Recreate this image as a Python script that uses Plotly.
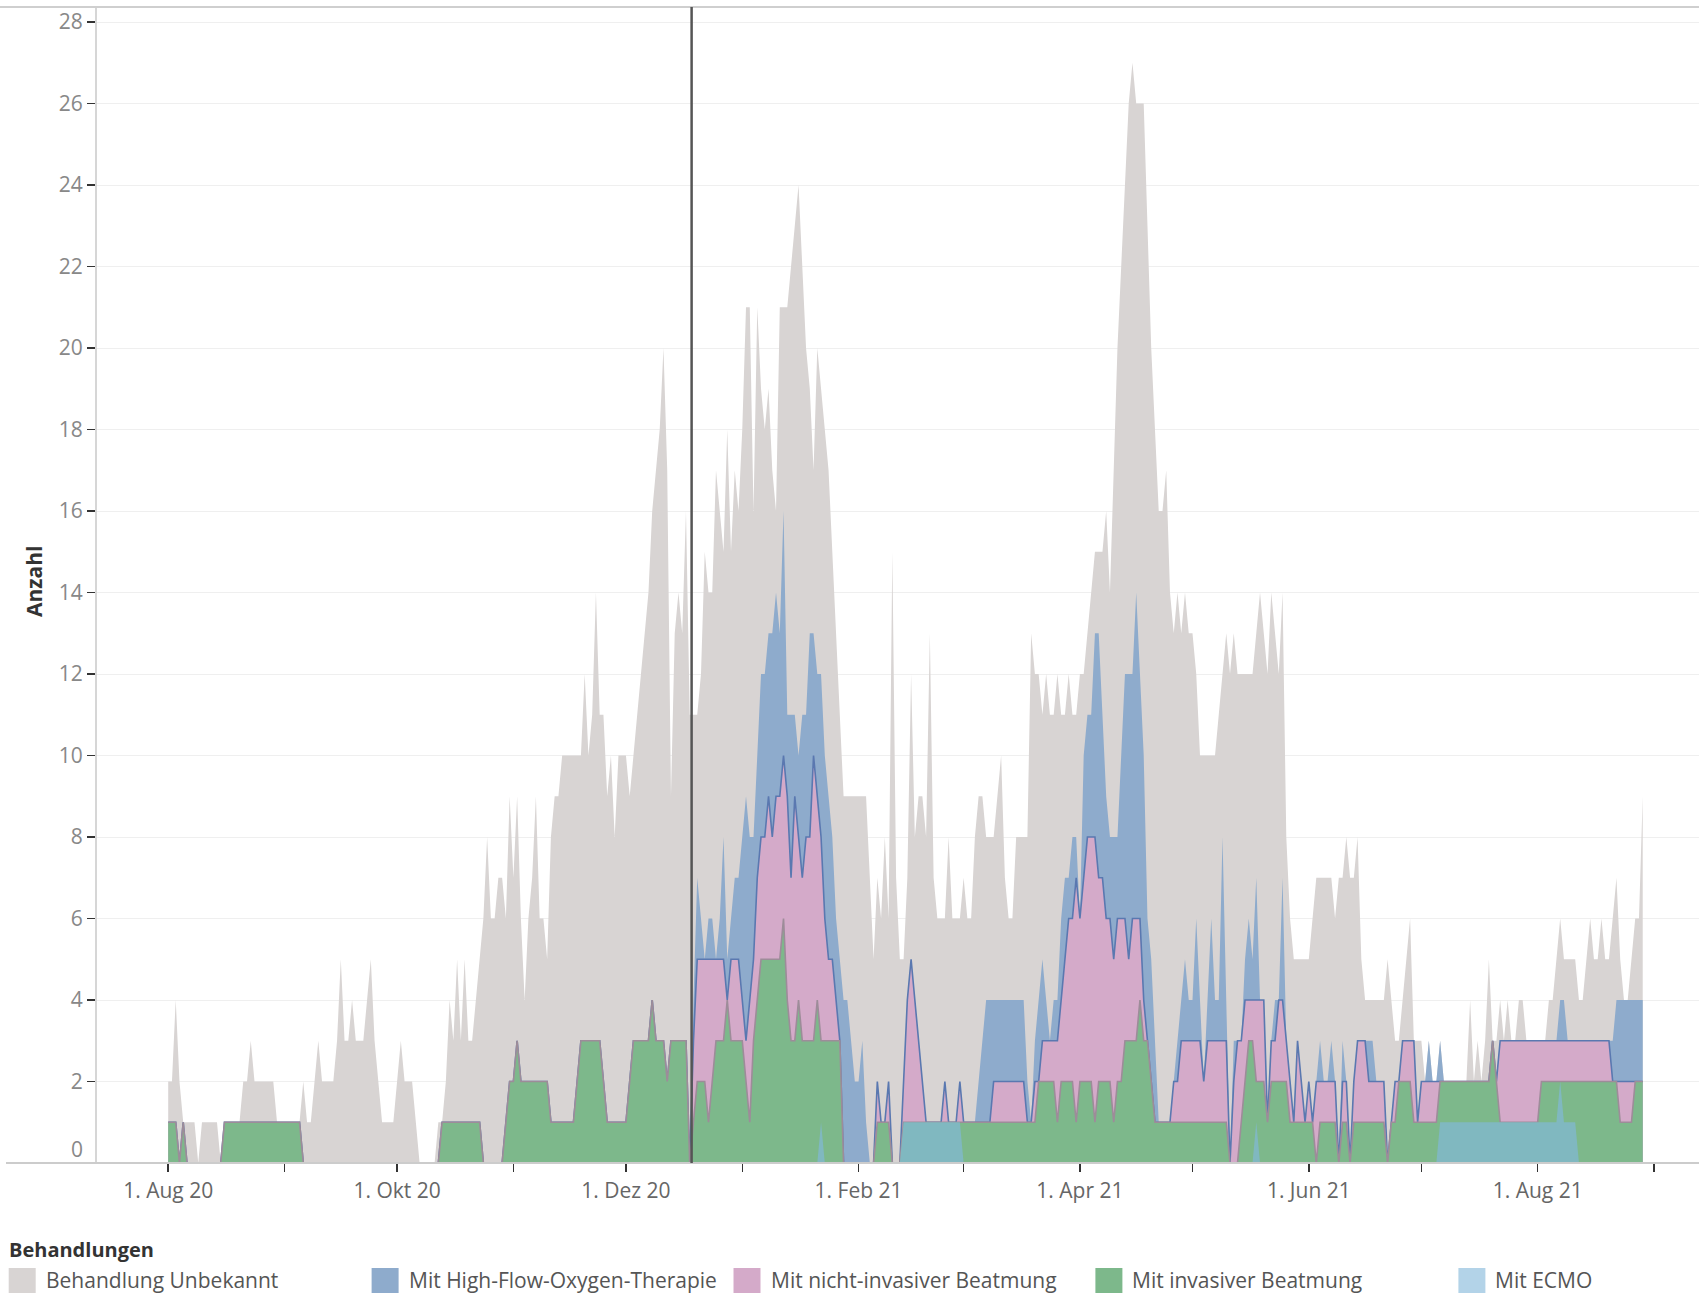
import pandas as pd
import plotly.graph_objects as go

# ---------------- data (daily counts, 1 Aug 2020 .. 29 Aug 2021) ----------------
start_date = "2020-08-01"
n_days = 394

unbekannt = (
    [2,2,4,2,1,1,1,1,0,1, 1,1,1,1,0,1,1,1,1,1, 2,2,3,2,2,2,2,2,2,1, 1]            # Aug 20
    + [1,1,1,1,1,2,1,1,2,3, 2,2,2,2,3,5,3,3,4,3, 3,3,4,5,3,2,1,1,1,1]           # Sep 20
    + [2,3,2,2,2,1,0,0,0,0, 0,1,1,2,4,3,5,3,5,3, 3,4,5,6,8,6,6,7,7,6, 9]        # Okt 20
    + [7,9,6,4,6,7,9,6,6,5, 8,9,9,10,10,10,10,10,10,12, 10,11,14,11,11,9,10,8,10,10]  # Nov 20
    + [10,9,10,11,12,13,14,16,17,18, 20,17,9,13,14,13,16,11,11,11, 12,15,14,14,17,16,15,18,15,17, 16]  # Dez 20
    + [18,21,21,16,21,19,18,19,17,16, 21,21,21,22,23,24,22,20,19,17, 20,19,18,17,15,13,11,9,9,9, 9]   # Jan 21
    + [9,9,9,7,5,7,6,8,6,15, 7,5,5,7,12,8,9,9,8,13, 7,6,6,6,8,6,6,6]           # Feb 21
    + [7,6,6,8,9,9,8,8,8,9, 10,7,6,6,8,8,8,8,13,12, 12,11,12,11,11,12,11,11,12,11, 11]  # Mar 21
    + [12,12,13,14,15,15,15,16,14,17, 20,22,24,26,27,26,26,26,23,20, 18,16,16,17,14,13,14,13,14,13]  # Apr 21
    + [13,12,10,10,10,10,10,11,12,13, 12,13,12,12,12,12,12,13,14,13, 12,14,13,12,14,8,6,5,5,5, 5]   # Mai 21
    + [5,6,7,7,7,7,7,6,7,7, 8,7,7,8,5,4,4,4,4,4, 4,5,4,3,3,4,5,6,3,3]          # Jun 21
    + [3,2,3,2,2,3,2,2,2,2, 2,2,2,4,2,3,2,3,5,3, 3,4,3,4,3,3,4,4,3,3, 3]        # Jul 21
    + [3,3,3,4,4,5,6,5,5,5, 5,4,4,5,6,5,5,6,5,5, 6,7,5,4,4,5,6,6,9]            # Aug 21
)

high_flow = (
    [1,1,1,0,1,0,0,0,0,0, 0,0,0,0,0,1,1,1,1,1, 1,1,1,1,1,1,1,1,1,1, 1]
    + [1,1,1,1,1,0,0,0,0,0, 0,0,0,0,0,0,0,0,0,0, 0,0,0,0,0,0,0,0,0,0]
    + [0,0,0,0,0,0,0,0,0,0, 0,0,1,1,1,1,1,1,1,1, 1,1,1,0,0,0,0,0,0,1, 2]
    + [2,3,2,2,2,2,2,2,2,2, 1,1,1,1,1,1,1,2,3,3, 3,3,3,3,2,1,1,1,1,1]
    + [1,2,3,3,3,3,3,4,3,3, 3,2,3,3,3,3,3,0,4,7, 6,5,6,6,5,6,8,5,6,7, 7]
    + [8,9,8,8,10,12,12,13,13,14, 13,16,11,11,11,10,11,11,13,13, 12,12,10,9,8,6,5,4,4,3, 2]
    + [2,3,1,0,0,2,1,1,2,0, 0,0,2,4,5,4,3,2,1,1, 1,1,1,2,1,1,1,2]
    + [1,1,1,1,2,3,4,4,4,4, 4,4,4,4,4,4,4,2,1,3, 4,5,4,3,4,4,6,7,7,8, 8]
    + [6,10,11,11,13,13,11,9,8,8, 8,10,12,12,12,14,12,10,6,5, 3,1,1,1,1,2,3,4,5,4]
    + [4,6,4,2,4,6,4,4,8,4, 0,3,3,3,5,6,5,7,4,4, 1,3,4,4,7,3,2,1,3,2, 1]
    + [2,1,2,3,2,2,3,2,0,3, 2,0,2,3,3,3,3,3,2,2, 2,0,1,2,2,3,3,3,3,1]
    + [2,2,3,2,2,3,2,2,2,2, 2,2,2,2,2,2,2,2,2,3, 2,3,3,3,3,3,3,3,3,3, 3]
    + [3,3,3,3,3,3,4,4,3,3, 3,3,3,3,3,3,3,3,3,3, 3,4,4,4,4,4,4,4,4]
)

nicht_invasiv = (
    [1,1,1,0,1,0,0,0,0,0, 0,0,0,0,0,1,1,1,1,1, 1,1,1,1,1,1,1,1,1,1, 1]
    + [1,1,1,1,1,0,0,0,0,0, 0,0,0,0,0,0,0,0,0,0, 0,0,0,0,0,0,0,0,0,0]
    + [0,0,0,0,0,0,0,0,0,0, 0,0,1,1,1,1,1,1,1,1, 1,1,1,0,0,0,0,0,0,1, 2]
    + [2,3,2,2,2,2,2,2,2,2, 1,1,1,1,1,1,1,2,3,3, 3,3,3,3,2,1,1,1,1,1]
    + [1,2,3,3,3,3,3,4,3,3, 3,2,3,3,3,3,3,0,3,5, 5,5,5,5,5,5,5,4,5,5, 5]
    + [4,3,4,5,7,8,8,9,8,9, 9,10,9,7,9,8,7,8,8,10, 9,8,6,5,5,4,3,0,0,0, 0]
    + [0,0,0,0,0,2,1,1,2,0, 0,0,2,4,5,4,3,2,1,1, 1,1,1,2,1,1,1,2]
    + [1,1,1,1,1,1,1,1,2,2, 2,2,2,2,2,2,2,1,1,2, 2,3,3,3,3,3,4,5,6,6, 7]
    + [6,7,8,8,8,7,7,6,6,5, 6,6,6,5,6,6,6,4,3,2, 1,1,1,1,1,2,2,3,3,3]
    + [3,3,3,2,3,3,3,3,3,3, 0,2,3,3,4,4,4,4,4,4, 1,3,3,4,4,3,2,1,3,2, 1]
    + [2,1,2,2,2,2,2,2,0,2, 2,0,2,3,3,3,2,2,2,2, 2,0,1,2,2,3,3,3,3,1]
    + [2,2,2,2,2,2,2,2,2,2, 2,2,2,2,2,2,2,2,2,3, 2,3,3,3,3,3,3,3,3,3, 3]
    + [3,3,3,3,3,3,3,3,3,3, 3,3,3,3,3,3,3,3,3,3, 2,2,2,2,2,2,2,2,2]
)

invasiv = (
    [1,1,1,0,1,0,0,0,0,0, 0,0,0,0,0,1,1,1,1,1, 1,1,1,1,1,1,1,1,1,1, 1]
    + [1,1,1,1,1,0,0,0,0,0, 0,0,0,0,0,0,0,0,0,0, 0,0,0,0,0,0,0,0,0,0]
    + [0,0,0,0,0,0,0,0,0,0, 0,0,1,1,1,1,1,1,1,1, 1,1,1,0,0,0,0,0,0,1, 2]
    + [2,3,2,2,2,2,2,2,2,2, 1,1,1,1,1,1,1,2,3,3, 3,3,3,3,2,1,1,1,1,1]
    + [1,2,3,3,3,3,3,4,3,3, 3,2,3,3,3,3,3,0,1,2, 2,2,1,2,3,3,3,4,3,3, 3]
    + [3,2,1,3,4,5,5,5,5,5, 5,6,4,3,3,4,3,3,3,3, 4,3,3,3,3,3,3,0,0,0, 0]
    + [0,0,0,0,0,1,1,1,1,0, 0,0,1,1,1,1,1,1,1,1, 1,1,1,1,1,1,1,1]
    + [1,1,1,1,1,1,1,1,1,1, 1,1,1,1,1,1,1,1,1,1, 2,2,2,2,2,1,2,2,2,2, 1]
    + [2,2,2,2,1,2,2,2,2,1, 2,2,3,3,3,3,4,3,3,2, 1,1,1,1,1,1,1,1,1,1]
    + [1,1,1,1,1,1,1,1,1,1, 0,0,0,1,2,3,3,2,2,2, 1,2,2,2,2,2,1,1,1,1, 1]
    + [1,1,0,1,1,1,1,1,0,1, 1,0,1,1,1,1,1,1,1,1, 1,0,1,1,2,2,2,2,1,1]
    + [1,1,1,1,1,2,2,2,2,2, 2,2,2,2,2,2,2,2,2,3, 2,1,1,1,1,1,1,1,1,1, 1]
    + [1,2,2,2,2,2,2,2,2,2, 2,2,2,2,2,2,2,2,2,2, 2,2,1,1,1,1,2,2,2]
)

ecmo = (
    [0]*31 + [0]*30 + [0]*31 + [0]*30 + [0]*31
    + [0,0,0,0,0,0,0,0,0,0, 0,0,0,0,0,0,0,0,0,0, 0,1,0,0,0,0,0,0,0,0, 0]
    + [0,0,0,0,0,0,0,0,0,0, 0,0,1,1,1,1,1,1,1,1, 1,1,1,1,1,1,1,1]
    + [0]*31 + [0]*30
    + [0,0,0,0,0,0,0,0,0,0, 0,0,0,0,0,0,0,1,0,0, 0,0,0,0,0,0,0,0,0,0, 0]
    + [0]*30
    + [0,0,0,0,0,1,1,1,1,1, 1,1,1,1,1,1,1,1,1,1, 1,1,1,1,1,1,1,1,1,1, 1]
    + [1,1,1,1,1,1,2,1,1,1, 1,0,0,0,0,0,0,0,0,0, 0,0,0,0,0,0,0,0,0]
)

series_names = ["Behandlung Unbekannt", "Mit High-Flow-Oxygen-Therapie",
                "Mit nicht-invasiver Beatmung", "Mit invasiver Beatmung", "Mit ECMO"]
series_values = [unbekannt, high_flow, nicht_invasiv, invasiv, ecmo]
for nm, vals in zip(series_names, series_values):
    if len(vals) != n_days:
        raise ValueError(f"{nm}: {len(vals)} values, expected {n_days}")

dates = pd.date_range(start_date, periods=n_days, freq="D")
reference_date = "2020-12-18 12:00"

x_tick_dates = pd.date_range("2020-08-01", "2021-09-01", freq="MS")
month_abbr = {1: "Jan", 2: "Feb", 3: "Mär", 4: "Apr", 5: "Mai", 6: "Jun", 7: "Jul",
              8: "Aug", 9: "Sep", 10: "Okt", 11: "Nov", 12: "Dez"}
x_tick_text = [f"1. {month_abbr[d.month]} {d.strftime('%y')}" if i % 2 == 0 else ""
               for i, d in enumerate(x_tick_dates)]
y_ticks = list(range(2, 29, 2))

# ---------------- style ----------------
W, H = 1699, 1293
L, R, T, B = 97, 0, 7, 130
PW, PH = W - L - R, H - T - B

def px_x(px):
    return (px - L) / PW

def px_y(py):
    return 1 - (py - T) / PH

FONT = "Open Sans"
fills = ["#d8d4d3", "#8eabcc", "#d4aac9", "#7db88b", "#80b8c0"]
line_colors = ["#d8d4d3", "#8eabcc", "#5a78b0", "#9d8c99", "#80b8c0"]
line_widths = [0, 0, 1.6, 1.6, 0]
legend_colors = ["#d8d4d3", "#8eabcc", "#d4aac9", "#7db88b", "#b3d3e8"]

fig = go.Figure()
for nm, vals, fc, lc, lw in zip(series_names, series_values, fills, line_colors, line_widths):
    fig.add_trace(go.Scatter(
        x=dates, y=vals, name=nm, mode="lines", fill="tozeroy",
        fillcolor=fc, line=dict(color=lc, width=lw, shape="linear"),
        hoverinfo="skip", showlegend=False))

x_left = pd.Timestamp("2020-08-01") - pd.Timedelta(days=18.98)
x_right = pd.Timestamp("2020-08-01") + pd.Timedelta(days=408.0)

fig.update_layout(
    width=W, height=H,
    margin=dict(l=L, r=R, t=T, b=B, autoexpand=False),
    paper_bgcolor="white", plot_bgcolor="white",
    showlegend=False,
    font=dict(family=FONT, size=21, color="#555555"),
    xaxis=dict(type="date", range=[x_left, x_right], tickmode="array",
               tickvals=list(x_tick_dates), ticktext=x_tick_text,
               ticks="outside", ticklen=8, tickwidth=1.5, tickcolor="#333333",
               showgrid=False, zeroline=False, showline=False,
               tickfont=dict(family=FONT, size=21, color="#666666"),
               ticklabelstandoff=1),
    yaxis=dict(range=[0, 28.37], tickmode="array", tickvals=y_ticks,
               ticktext=[str(v) for v in y_ticks],
               ticks="outside", ticklen=8, tickwidth=1.5, tickcolor="#333333",
               showgrid=True, gridcolor="#efefef", gridwidth=1,
               zeroline=False, showline=True, linecolor="#d6d6d6", linewidth=2,
               tickfont=dict(family=FONT, size=21, color="#888888")),
)

shapes = [
    dict(type="line", xref="paper", yref="paper", x0=px_x(0), x1=1, y0=1, y1=1,
         line=dict(color="#cfcfcf", width=2)),
    dict(type="line", xref="paper", yref="paper", x0=px_x(6), x1=1, y0=0, y1=0,
         line=dict(color="#cccccc", width=2)),
    dict(type="line", xref="x", yref="paper", x0=reference_date, x1=reference_date,
         y0=0, y1=1, line=dict(color="#555555", width=2.5)),
]

annotations = [
    dict(text="0", xref="paper", yref="paper", x=px_x(85), y=px_y(1148.5),
         xanchor="right", yanchor="middle", showarrow=False,
         font=dict(family=FONT, size=21, color="#888888")),
    dict(text="<b>Anzahl</b>", xref="paper", yref="paper", x=px_x(34), y=px_y(582),
         xanchor="center", yanchor="middle", textangle=-90, showarrow=False,
         font=dict(family=FONT, size=21, color="#333333")),
    dict(text="<b>Behandlungen</b>", xref="paper", yref="paper", x=px_x(7), y=px_y(1249),
         xanchor="left", yanchor="middle", showarrow=False,
         font=dict(family=FONT, size=20, color="#333333")),
]

legend_x = [8.7, 371.6, 733.5, 1095.4, 1458.4]
for i, (nm, col) in enumerate(zip(series_names, legend_colors)):
    x0 = legend_x[i]
    shapes.append(dict(type="rect", xref="paper", yref="paper",
                       x0=px_x(x0), x1=px_x(x0 + 27), y0=px_y(1293), y1=px_y(1268),
                       fillcolor=col, line=dict(width=0)))
    annotations.append(dict(text=nm, xref="paper", yref="paper", x=px_x(x0 + 35), y=px_y(1280),
                            xanchor="left", yanchor="middle", showarrow=False,
                            font=dict(family=FONT, size=21, color="#555555")))

fig.update_layout(shapes=shapes, annotations=annotations)
fig.write_html("out.html",
               config={"displayModeBar": False, "staticPlot": True},
               post_script="document.body.style.margin='0px';document.body.style.padding='0px';"
                           "document.body.style.overflow='hidden';")
